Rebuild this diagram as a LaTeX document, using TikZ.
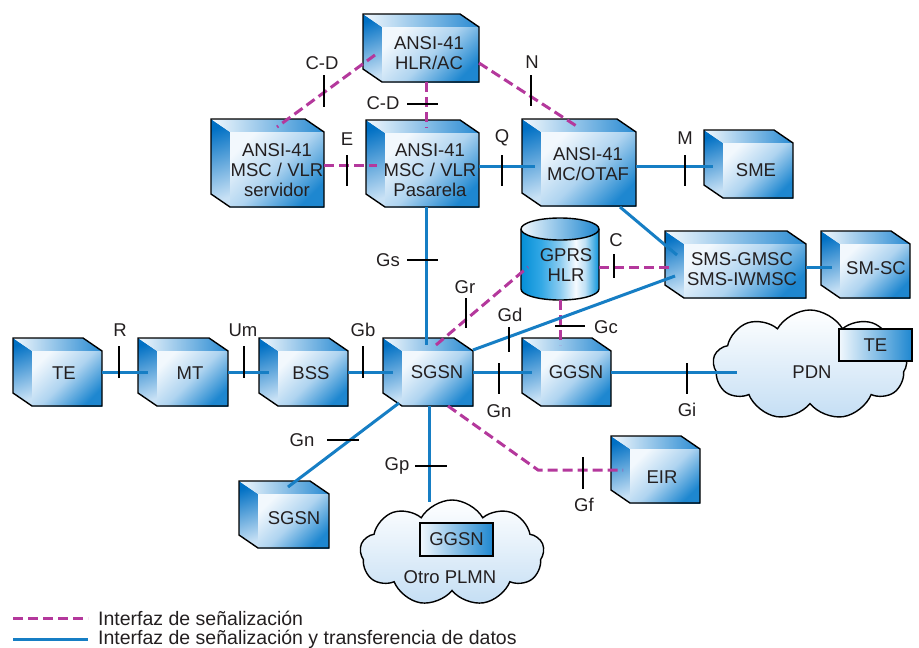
\documentclass[tikz,border=0pt]{standalone}
\usepackage{fontspec}
\setmainfont{Liberation Sans}
\usetikzlibrary{calc,shapes.symbols}

\definecolor{sigmag}{RGB}{180,56,156}
\definecolor{datblue}{RGB}{22,126,196}
\definecolor{txtc}{RGB}{35,31,32}
\definecolor{cfA}{RGB}{242,248,253}
\definecolor{cfB}{RGB}{175,212,240}
\definecolor{cfC}{RGB}{30,135,208}
\definecolor{clA}{RGB}{0,112,196}
\definecolor{clB}{RGB}{200,225,245}
\definecolor{ctA}{RGB}{242,248,253}
\definecolor{ctB}{RGB}{40,138,210}
\definecolor{cloudB}{RGB}{196,222,244}

\pgfdeclarehorizontalshading{cylshade}{100bp}{rgb(0bp)=(0.02,0.56,0.84); rgb(25bp)=(0.02,0.56,0.84); rgb(38bp)=(0.2,0.66,0.9); rgb(50bp)=(0.55,0.8,0.94); rgb(60bp)=(0.96,0.98,1); rgb(66bp)=(0.75,0.88,0.96); rgb(75bp)=(0.04,0.58,0.86); rgb(100bp)=(0.04,0.58,0.86)}

\tikzset{
  cubeline/.style={draw=black, line width=1.4pt, line join=miter},
  cubefrontsh/.style={top color=cfA, bottom color=cfC, middle color=cfB, shading angle=45},
  cubeleftsh/.style={top color=clA, bottom color=clB, shading angle=20},
  cubetopsh/.style={left color=ctA, right color=ctB},
  boxanchor/.style={inner sep=0pt, outer sep=0pt, draw=none, fill=none},
  lbl/.style={inner sep=1pt, text=txtc, align=center, font=\fontsize{18.5}{20}\selectfont},
  sig/.style={draw=sigmag, line width=3pt, dash pattern=on 10pt off 5pt},
  dat/.style={draw=datblue, line width=3pt},
  tick/.style={draw=black, line width=1.3pt},
  smallbox/.style={draw=black, line width=1.4pt, left color=cfA, right color=cfC, inner sep=0pt, text=txtc, font=\fontsize{18.5}{20}\selectfont},
  netcloud/.style={cloud, cloud puffs=9, cloud puff arc=120, cloud ignores aspect, draw=black, line width=1.4pt, top color=white, bottom color=cloudB, inner sep=0pt}
}

\newcommand\netcube[8]{%
  \shade[cubeleftsh] (#2,#3) -- ({#2+19},{#3+13}) -- ({#2+19},#5) -- (#2,{#5-13}) -- cycle;
  \shade[cubetopsh] (#2,#3) -- ({#4-19},#3) -- (#4,{#3+13}) -- ({#2+19},{#3+13}) -- cycle;
  \shade[cubefrontsh] ({#2+19},{#3+13}) rectangle (#4,#5);
  \draw[cubeline] (#2,#3) -- ({#4-19},#3) -- (#4,{#3+13}) -- (#4,#5) -- ({#2+19},#5) -- (#2,{#5-13}) -- cycle;
  \node[boxanchor, minimum width={(#4-#2)*1pt}, minimum height={(#5-#3)*1pt}] (#1) at ({(#2+#4)/2},{(#3+#5)/2}) {};
  \node[lbl] (#1-t) at (#6,#7) {#8};
}

\begin{document}
\begin{tikzpicture}[x=1pt,y=-1pt]
\useasboundingbox (0,0) rectangle (919,648);

% clouds
\node[netcloud, minimum width=194pt, minimum height=110pt] (pdn) at (810,365) {};
\node[lbl] (pdn-t) at (812,372) {PDN};
\node[smallbox, minimum width=73pt, minimum height=32pt] (te2) at (875.5,345) {TE};

\node[netcloud, minimum width=184pt, minimum height=106pt] (plmn) at (452,553) {};
\node[smallbox, minimum width=73pt, minimum height=33pt] (ggsn2) at (456.5,539.5) {GGSN};
\node[lbl] (plmn-t) at (450,577) {Otro PLMN};

% cubes
\netcube{hlrac}{363}{14}{479}{82}{429}{53}{ANSI-41\\HLR/AC}
\netcube{serv}{211}{119}{324}{207}{277}{170}{ANSI-41\\MSC / VLR\\servidor}
\netcube{pasa}{366}{120}{479}{207}{430}{170}{ANSI-41\\MSC / VLR\\Pasarela}
\netcube{otaf}{522}{119}{636}{206}{588}{164}{ANSI-41\\MC/OTAF}
\netcube{sme}{704}{130}{793}{198}{756}{170}{SME}
\netcube{gmsc}{665}{231}{806}{298}{742}{269}{SMS-GMSC\\SMS-IWMSC}
\netcube{smsc}{821}{231}{910}{298}{876}{268}{SM-SC}
\netcube{te}{13}{338}{102}{406}{64}{373}{TE}
\netcube{mt}{138}{338}{228}{406}{190}{373}{MT}
\netcube{bss}{259}{338}{348}{406}{311}{373}{BSS}
\netcube{sgsn}{383}{338}{473}{406}{437}{372}{SGSN}
\netcube{ggsn}{522}{338}{611}{406}{576}{372}{GGSN}
\netcube{eir}{611}{436}{700}{503}{662}{477}{EIR}
\netcube{sgsnb}{239}{481}{329}{548}{294}{518}{SGSN}

% cylinder GPRS HLR
\shade[shading=cylshade] (521,229) -- (521,289) arc[start angle=180, end angle=0, x radius=39, y radius=11] -- (599,229) -- cycle;
\shade[left color=cfA, right color=cfC] (560,229) ellipse[x radius=39, y radius=11];
\draw[cubeline] (521,229) -- (521,289) arc[start angle=180, end angle=0, x radius=39, y radius=11] -- (599,229);
\draw[cubeline] (560,229) ellipse[x radius=39, y radius=11];
\node[boxanchor, minimum width=78pt, minimum height=82pt] (hlr) at (560,259) {};
\node[lbl] (hlr-t) at (566,265.5) {GPRS\\HLR};

% connectors: signalling (dashed)
\draw[sig] ($(hlrac.west)+(12,7)$) -- ($(serv.north)+(9.5,8)$);
\draw[sig] ($(hlrac.south)+(5,0)$) -- ($(pasa.north)+(3.5,8)$);
\draw[sig] ($(hlrac.east)+(0,15)$) -- ($(otaf.north)+(-1,8)$);
\draw[sig] ($(serv.east)+(0,2)$) -- ($(pasa.west)+(11,1.5)$);
\draw[sig] ($(hlr.east)+(0,8)$) -- ($(gmsc.west)+(8,2.5)$);
\draw[sig] ($(sgsn.north)+(8,7)$) -- ($(hlr.center)+(-32,8)$);
\draw[sig] (hlr.south) -- ($(hlr.south |- ggsn.north)+(0,7)$);
\draw[sig] ($(sgsn.south)+(20,0)$) -- ($(eir.west)+(-73,0.5)$) -- ($(eir.west)+(12,0.5)$);

% connectors: data (solid)
\draw[dat] ($(pasa.east)+(0,2.5)$) -- ($(otaf.west)+(13,3.5)$);
\draw[dat] ($(otaf.east)+(0,3.5)$) -- ($(sme.west)+(9,2)$);
\draw[dat] ($(otaf.south east)+(-16,1)$) -- ($(gmsc.north west)+(12,24)$);
\draw[dat] ($(gmsc.east)+(0,2.5)$) -- ($(smsc.west)+(11,2.5)$);
\draw[dat] ($(pasa.south -| sgsn.north)+(-2,0)$) -- ($(sgsn.north)+(-2,7)$);
\draw[dat] ($(sgsn.north east)+(0,12)$) -- ($(gmsc.west)+(10,11.5)$);
\draw[dat] (te.east) -- ($(mt.west)+(10,0)$);
\draw[dat] (mt.east) -- ($(bss.west)+(10,0)$);
\draw[dat] (bss.east) -- ($(sgsn.west)+(10,0)$);
\draw[dat] (sgsn.east) -- ($(ggsn.west)+(10,0)$);
\coordinate (pdnin) at ($(pdn.west |- ggsn.east)+(24,0)$);
\draw[dat] (ggsn.east) -- (pdnin);
\draw[dat] ($(sgsn.south west)+(16,-3)$) -- ($(sgsnb.north)+(4,6)$);
\draw[dat] ($(sgsn.south)+(1,0)$) -- ($(sgsn.south |- plmn.north)+(1,3)$);

% ticks
\draw[tick] (324,75) -- (324,107);
\draw[tick] (407,104) -- (438,104);
\draw[tick] (531,75) -- (531,106);
\draw[tick] (347,155) -- (347,186);
\draw[tick] (502,155) -- (502,186);
\draw[tick] (685,155) -- (685,186);
\draw[tick] (614,254) -- (614,278);
\draw[tick] (407,260) -- (438,260);
\draw[tick] (466,298) -- (466,328);
\draw[tick] (509,327) -- (509,352);
\draw[tick] (555,326) -- (585,326);
\draw[tick] (499,363) -- (499,394);
\draw[tick] (687,363) -- (687,394);
\draw[tick] (119,346) -- (119,378);
\draw[tick] (244,346) -- (244,378);
\draw[tick] (363,346) -- (363,378);
\draw[tick] (327,440) -- (359,440);
\draw[tick] (415,466) -- (447,466);
\draw[tick] (583,457) -- (583,489);

% interface labels
\node[lbl] (l-cd1) at (322,63) {C-D};
\node[lbl] (l-cd2) at (383,103) {C-D};
\node[lbl] (l-n) at (532,62) {N};
\node[lbl] (l-e) at (347,139) {E};
\node[lbl] (l-q) at (502,138) {Q};
\node[lbl] (l-m) at (685,138) {M};
\node[lbl] (l-c) at (616,240) {C};
\node[lbl] (l-gs) at (388,260) {Gs};
\node[lbl] (l-gr) at (465,287) {Gr};
\node[lbl] (l-gd) at (510,315) {Gd};
\node[lbl] (l-gc) at (606,327) {Gc};
\node[lbl] (l-gn1) at (499,411) {Gn};
\node[lbl] (l-gi) at (687,410) {Gi};
\node[lbl] (l-r) at (120,330) {R};
\node[lbl] (l-um) at (243,330) {Um};
\node[lbl] (l-gb) at (363,330) {Gb};
\node[lbl] (l-gn2) at (302,440) {Gn};
\node[lbl] (l-gp) at (397,466) {Gp};
\node[lbl] (l-gf) at (584,505) {Gf};

% legend
\coordinate (lg1a) at (13,618);
\coordinate (lg1b) at (88,618);
\coordinate (lg2a) at (13,639);
\coordinate (lg2b) at (88,639);
\draw[sig] (lg1a) -- (lg1b);
\draw[dat] (lg2a) -- (lg2b);
\node[lbl, anchor=west, font=\fontsize{19.5}{21}\selectfont] (lg1t) at ($(lg1b)+(9,0)$) {Interfaz de señalización};
\node[lbl, anchor=west, font=\fontsize{19.5}{21}\selectfont] (lg2t) at ($(lg2b)+(9,0)$) {Interfaz de señalización y transferencia de datos};
\end{tikzpicture}
\end{document}
